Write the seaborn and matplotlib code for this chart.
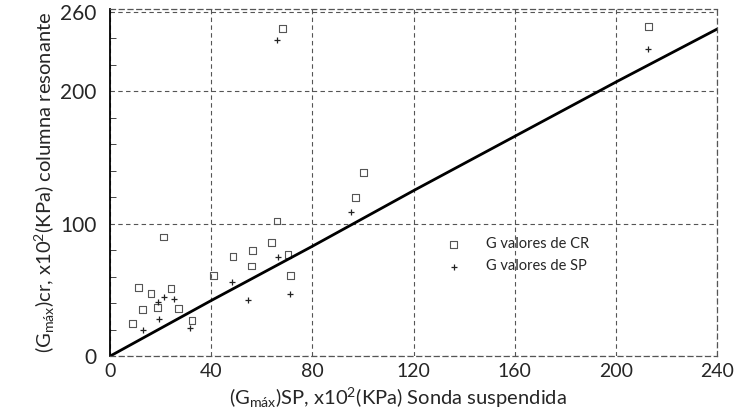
import matplotlib
matplotlib.use("Agg")
import matplotlib.pyplot as plt
import seaborn as sns
import pandas as pd
from matplotlib.ticker import MultipleLocator

# G values from resonant column (squares)
cr_x = [9, 11.2, 12.9, 16.2, 18.7, 24.1, 27, 32.4, 21, 41, 48.6, 55.8, 56.2,
        63.8, 66, 70.3, 71.3, 96.9, 100.2, 68, 212.7]
cr_y = [24.6, 52, 35, 47, 37, 51, 36, 27, 90, 61, 75, 68, 80,
        86, 102, 77, 61, 120, 138.6, 247.6, 249]

# G values from suspended probe (plus markers)
sp_x = [12.9, 19.2, 18.8, 21.5, 25.4, 31.7, 48.3, 54.6, 66.3, 71, 95.3, 66, 212.7]
sp_y = [20, 28, 41, 44.6, 43, 21, 56, 42, 75, 47, 108.5, 239, 232]

# fitted line
fit_x = [0, 40, 80, 120, 160, 200, 240]
fit_y = [0, 42, 83, 125, 166, 207, 247]

x_ticks = [0, 40, 80, 120, 160, 200, 240]
y_ticks = [0, 100, 200, 260]

sns.set_style("white")
plt.rcParams['font.family'] = ['Lato', 'DejaVu Sans']
plt.rcParams['mathtext.default'] = 'regular'

cr = pd.DataFrame({"x": cr_x, "y": cr_y})
sp = pd.DataFrame({"x": sp_x, "y": sp_y})
fit = pd.DataFrame({"x": fit_x, "y": fit_y})

fig = plt.figure(figsize=(7.44, 4.16), dpi=100)
ax = fig.add_axes([0.148, 0.144, 0.816, 0.834])

sns.lineplot(data=fit, x="x", y="y", ax=ax, color="black", linewidth=2.0)
sns.scatterplot(data=cr, x="x", y="y", ax=ax, marker="s", s=24,
                facecolor="none", edgecolor="#555555", linewidth=0.8,
                label="G valores de CR")
sns.scatterplot(data=sp, x="x", y="y", ax=ax, marker="+", s=20,
                color="#222222", linewidth=0.9, label="G valores de SP")

ax.set_xlim(0, 240)
ax.set_ylim(0, 262)
ax.set_xticks(x_ticks)
ax.set_yticks(y_ticks)
ax.yaxis.set_minor_locator(MultipleLocator(20))
ax.tick_params(axis="x", which="major", labelsize=14, length=0, pad=5)
ax.tick_params(axis="y", which="major", labelsize=15, length=0, pad=10)
ax.tick_params(axis="y", which="minor", direction="in", length=4, left=True)

ax.grid(True, which="major", linestyle=(0, (4, 3)), color="#555555", linewidth=0.8)
for side in ["top", "right", "bottom"]:
    ax.spines[side].set_linestyle((0, (4, 3)))
    ax.spines[side].set_color("#555555")
    ax.spines[side].set_linewidth(0.9)
ax.spines["left"].set_color("black")
ax.spines["left"].set_linewidth(1.3)

ax.set_xlabel("(G$_{máx}$)SP, x10$^{2}$(KPa) Sonda suspendida", fontsize=14.5)
ax.xaxis.set_label_coords(0.474, -0.085)
ax.set_ylabel("(G$_{máx}$)cr, x10$^{2}$(KPa) columna resonante", fontsize=14.5, labelpad=2)

ax.legend(loc="center left", bbox_to_anchor=(0.52, 0.29), frameon=False,
          fontsize=10.5, handletextpad=1.2, labelspacing=0.55)

fig.savefig("out.png", dpi=100)
